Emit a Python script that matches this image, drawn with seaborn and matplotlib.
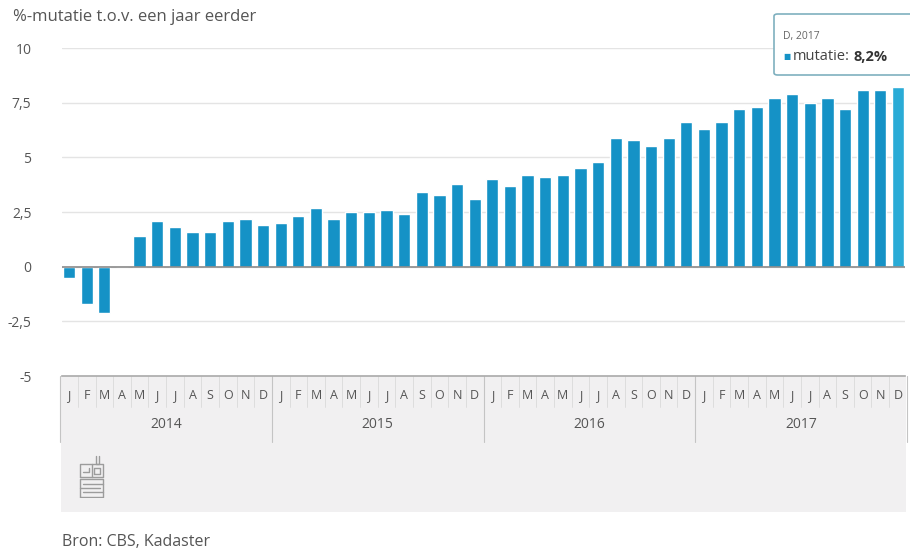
import matplotlib.pyplot as plt
import matplotlib.transforms as mtransforms
from matplotlib.patches import Rectangle, FancyBboxPatch
import seaborn as sns
import pandas as pd

# -----------------------------------------------------------------------------
# DATA: %-mutatie t.o.v. een jaar eerder (maandelijks)
# -----------------------------------------------------------------------------
years = ["2014", "2015", "2016", "2017"]
month_letters = ["J", "F", "M", "A", "M", "J", "J", "A", "S", "O", "N", "D"]

mutatie_2014 = [-0.5, -1.7, -2.1, 0.0, 1.4, 2.1, 1.8, 1.6, 1.6, 2.1, 2.2, 1.9]
mutatie_2015 = [2.0, 2.3, 2.7, 2.2, 2.5, 2.5, 2.6, 2.4, 3.4, 3.3, 3.8, 3.1]
mutatie_2016 = [4.0, 3.7, 4.2, 4.1, 4.2, 4.5, 4.8, 5.9, 5.8, 5.5, 5.9, 6.6]
mutatie_2017 = [6.3, 6.6, 7.2, 7.3, 7.7, 7.9, 7.5, 7.7, 7.2, 8.1, 8.1, 8.2]

y_ticks = [-5, -2.5, 0, 2.5, 5, 7.5, 10]
y_ticklabels = ["-5", "-2,5", "0", "2,5", "5", "7,5", "10"]

BAR_COLOR = "#1592c6"
HOVER_COLOR = "#2aabd6"
TEXT_COLOR = "#555555"
GRID_COLOR = "#e4e4e4"
PANEL_COLOR = "#f1f0f1"

sns.set_theme(style="white")
plt.rcParams["font.family"] = ["Open Sans", "DejaVu Sans"]

rows = []
for y, vals in zip(years, [mutatie_2014, mutatie_2015, mutatie_2016, mutatie_2017]):
    for m, v in enumerate(vals):
        rows.append({"periode": f"{y}-{m + 1:02d}", "jaar": y, "maand": month_letters[m], "mutatie": v})
df = pd.DataFrame(rows)
n = len(df)

fig = plt.figure(figsize=(9.10, 5.53), dpi=100)
fig.patch.set_facecolor("white")
ax = fig.add_axes([62 / 910, 1 - 376 / 553, (905 - 62) / 910, (376 - 48) / 553])
ax.patch.set_alpha(0)

sns.barplot(data=df, x="periode", y="mutatie", order=df["periode"], color=BAR_COLOR,
            saturation=1, width=0.7, ax=ax)
# laatste balk is "gehovered"
ax.patches[n - 1].set_facecolor(HOVER_COLOR)

ax.set_ylim(-5, 10)
ax.set_xlim(-0.4, n - 0.6)
ax.set_yticks(y_ticks)
ax.set_yticklabels(y_ticklabels)
ax.tick_params(axis="y", length=0, pad=22, labelsize=10, labelcolor=TEXT_COLOR)
for lab in ax.get_yticklabels():
    lab.set_horizontalalignment("right")
ax.yaxis.grid(True, color=GRID_COLOR, linewidth=1)
ax.set_axisbelow(True)
for s in ["top", "right", "left"]:
    ax.spines[s].set_visible(False)
ax.spines["bottom"].set_color("#aaaaaa")
ax.spines["bottom"].set_linewidth(1.2)
ax.axhline(0, color="#8a8a8a", linewidth=1.2, zorder=3)
ax.set_xlabel("")
ax.set_ylabel("")

# maand-labels
ax.set_xticks(range(n))
ax.set_xticklabels(df["maand"], fontsize=9, color=TEXT_COLOR)
ax.tick_params(axis="x", length=0, pad=14)
for lab in ax.get_xticklabels():
    lab.set_verticalalignment("center")

# grijs paneel onder de as
trans = mtransforms.blended_transform_factory(ax.transData, fig.transFigure)
ax.add_patch(Rectangle((-0.45, 1 - 512 / 553), n - 0.1, (512 - 376) / 553, transform=trans,
                       facecolor=PANEL_COLOR, edgecolor="none", zorder=-5, clip_on=False))

# scheidingslijnen tussen maanden en jaren
for i in range(n + 1):
    x = i - 0.5
    if i % 12 == 0:
        ax.plot([x, x], [1 - 376 / 553, 1 - 442 / 553], transform=trans, color="#c4c4c4",
                linewidth=0.8, clip_on=False)
    else:
        ax.plot([x, x], [1 - 376 / 553, 1 - 407 / 553], transform=trans, color="#dadada",
                linewidth=0.6, clip_on=False)

# jaar-labels
for k, y in enumerate(years):
    ax.text(k * 12 + 5.5, 1 - 425 / 553, y, transform=trans, ha="center", va="center",
            fontsize=10, color=TEXT_COLOR)

# titel boven de y-as
fig.text(13 / 910, 1 - 17 / 553, "%-mutatie t.o.v. een jaar eerder", ha="left", va="center",
         fontsize=12, color=TEXT_COLOR)

# CBS-logo (eenvoudig)
logo_ax = fig.add_axes([77 / 910, 1 - 498 / 553, 29 / 910, 43 / 553])
logo_ax.set_xlim(0, 10)
logo_ax.set_ylim(0, 15)
logo_ax.axis("off")
lc = dict(color="#9c9c9c", linewidth=1.0)
# bovenste deel "cb"
logo_ax.plot([1, 9, 9, 1, 1], [7.5, 7.5, 12, 12, 7.5], **lc)
logo_ax.plot([5, 5], [7.5, 12], **lc)
logo_ax.plot([6.5, 6.5, 7.5, 7.5], [14.5, 12, 12, 14.5], **lc)
logo_ax.plot([2, 4, 4], [9, 9, 10.5], **lc)
logo_ax.plot([6, 8, 8, 6, 6], [8.5, 8.5, 10.5, 10.5, 8.5], **lc)
# onderste deel "s"
logo_ax.plot([1, 9, 9, 1, 1], [0.5, 0.5, 6.5, 6.5, 0.5], **lc)
logo_ax.plot([2, 9], [5, 5], **lc)
logo_ax.plot([1, 8], [3.5, 3.5], **lc)
logo_ax.plot([2, 9], [2, 2], **lc)

# bron
fig.text(62 / 910, 1 - 542 / 553, "Bron: CBS, Kadaster", ha="left", va="center",
         fontsize=11.5, color=TEXT_COLOR)

# tooltip
tip = FancyBboxPatch((774 / 910, 1 - 75 / 553), 150 / 910, 61 / 553,
                     boxstyle="round,pad=0,rounding_size=0.004", transform=fig.transFigure,
                     facecolor="white", edgecolor="#7fb0bf", linewidth=1.2, clip_on=False)
fig.patches.append(tip)
last = df.iloc[-1]
fig.text(783 / 910, 1 - 37 / 553, f"{last['maand']}, {last['jaar']}", ha="left", va="center",
         fontsize=7.5, color="#666666")
fig.text(783 / 910, 1 - 57 / 553, "\u25a0", ha="left", va="center", fontsize=5.5, color=BAR_COLOR)
t1 = fig.text(793 / 910, 1 - 57 / 553, "mutatie:", ha="left", va="center", fontsize=10.5,
              color="#444444")
renderer = fig.canvas.get_renderer()
bb = t1.get_window_extent(renderer=renderer)
fig.text((bb.x1 + 4) / fig.bbox.width, 1 - 57 / 553,
         f"{last['mutatie']:.1f}%".replace(".", ","), ha="left",
         va="center", fontsize=10.5, color="#333333", fontweight="bold")

fig.savefig("out.png", dpi=100, facecolor="white")
